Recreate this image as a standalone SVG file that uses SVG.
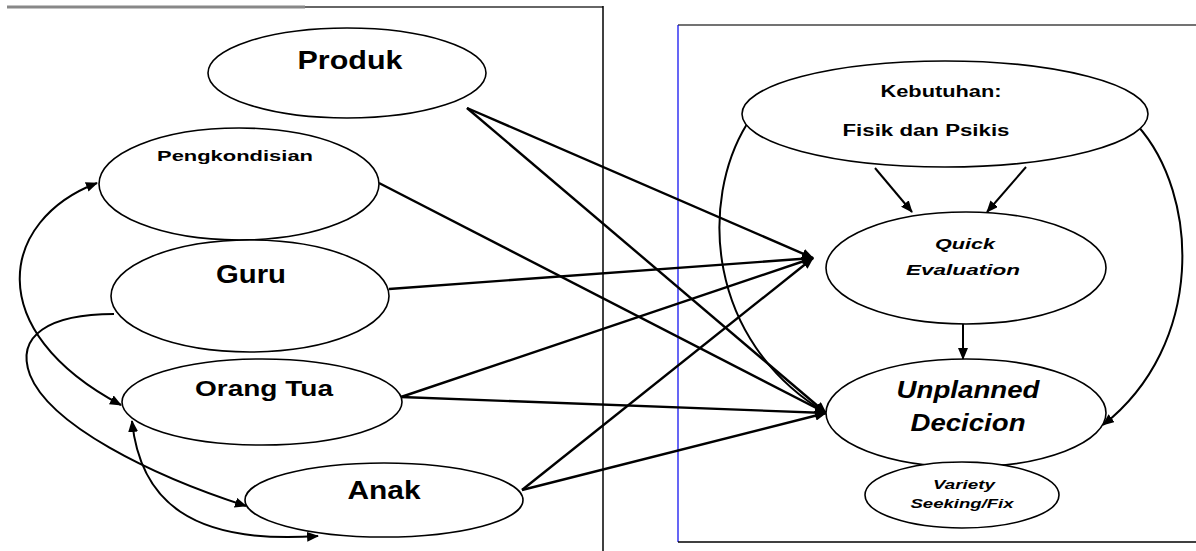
<svg xmlns="http://www.w3.org/2000/svg" width="1196" height="551" viewBox="0 0 1196 551">
<style>
.n{fill:#fff;stroke:#000;stroke-width:1.6}
.t{font-family:"Liberation Sans",Arial,sans-serif;font-weight:bold;fill:#000;text-anchor:middle}
.i{font-style:italic}
.c{fill:none;stroke:#000;stroke-width:2.4}
.cs{fill:none;stroke:#000;stroke-width:2}
</style>
<defs>
<marker id="ah" markerUnits="userSpaceOnUse" markerWidth="12" markerHeight="10" refX="11" refY="5" orient="auto-start-reverse" viewBox="0 0 12 10">
<path d="M0,0 L12,5 L0,10 z" fill="#000"/>
</marker>
</defs>
<rect width="1196" height="551" fill="#fff"/>
<g id="frames">
<line x1="7" y1="7" x2="305" y2="7" stroke="#888" stroke-width="3"/>
<line x1="305" y1="7" x2="603" y2="7" stroke="#333" stroke-width="1.5"/>
<line x1="603" y1="6" x2="603" y2="551" stroke="#000" stroke-width="1.5"/>
<line x1="678" y1="25" x2="1196" y2="25" stroke="#444" stroke-width="1.5"/>
<line x1="678" y1="25" x2="678" y2="542" stroke="#0000ee" stroke-width="1.2"/>
<line x1="678" y1="542" x2="1196" y2="542" stroke="#000" stroke-width="1.5"/>
</g>
<g id="connectors">
<line class="c" x1="467" y1="108" x2="813" y2="258" marker-end="url(#ah)"/>
<line class="c" x1="467" y1="108" x2="826" y2="413" marker-end="url(#ah)"/>
<line class="c" x1="379" y1="183" x2="826" y2="413" marker-end="url(#ah)"/>
<line class="c" x1="389" y1="289" x2="813" y2="258" marker-end="url(#ah)"/>
<line class="c" x1="401" y1="397" x2="813" y2="258" marker-end="url(#ah)"/>
<line class="c" x1="401" y1="397" x2="826" y2="413" marker-end="url(#ah)"/>
<line class="c" x1="522" y1="490" x2="813" y2="258" marker-end="url(#ah)"/>
<line class="c" x1="522" y1="490" x2="826" y2="413" marker-end="url(#ah)"/>
<line class="cs" x1="875" y1="168" x2="912" y2="212" marker-end="url(#ah)"/>
<line class="cs" x1="1026" y1="167" x2="987" y2="212" marker-end="url(#ah)"/>
<line class="cs" x1="963" y1="324" x2="963" y2="359" marker-end="url(#ah)"/>
<path class="cs" d="M747,124 C700,200 705,340 826,413" marker-end="url(#ah)"/>
<path class="cs" d="M1137,125 C1200,195 1205,345 1103,425" marker-end="url(#ah)"/>
<path class="cs" d="M97,183 C0,220 -20,330 121,405" marker-start="url(#ah)" marker-end="url(#ah)"/>
<path class="cs" d="M114,314 C50,314 15,335 30,375 C50,425 150,475 246,506" marker-end="url(#ah)"/>
<path class="cs" d="M132,421 C140,500 190,545 318,536" marker-start="url(#ah)" marker-end="url(#ah)"/>
</g>
<g id="produk">
<ellipse class="n" cx="347" cy="73" rx="139" ry="45"/>
<text class="t" x="350" y="69" font-size="26" textLength="105" lengthAdjust="spacingAndGlyphs">Produk</text>
</g>
<g id="pengkondisian">
<ellipse class="n" cx="239" cy="184" rx="140" ry="56"/>
<text class="t" x="235" y="161" font-size="15" textLength="156" lengthAdjust="spacingAndGlyphs">Pengkondisian</text>
</g>
<g id="guru">
<ellipse class="n" cx="250" cy="296" rx="139" ry="56"/>
<text class="t" x="251" y="283" font-size="25" textLength="70" lengthAdjust="spacingAndGlyphs">Guru</text>
</g>
<g id="orangtua">
<ellipse class="n" cx="262" cy="402" rx="140" ry="43"/>
<text class="t" x="264" y="396" font-size="22" textLength="138" lengthAdjust="spacingAndGlyphs">Orang Tua</text>
</g>
<g id="anak">
<ellipse class="n" cx="384" cy="500" rx="139" ry="37"/>
<text class="t" x="384" y="499" font-size="26" textLength="73" lengthAdjust="spacingAndGlyphs">Anak</text>
</g>
<g id="kebutuhan">
<ellipse class="n" cx="945" cy="114" rx="203" ry="53"/>
<text class="t" x="941" y="97" font-size="16" textLength="121" lengthAdjust="spacingAndGlyphs">Kebutuhan:</text>
<text class="t" x="926" y="136" font-size="16" textLength="167" lengthAdjust="spacingAndGlyphs">Fisik dan Psikis</text>
</g>
<g id="quick">
<ellipse class="n" cx="966" cy="268" rx="140" ry="56"/>
<text class="t i" x="965" y="249" font-size="15" textLength="60" lengthAdjust="spacingAndGlyphs">Quick</text>
<text class="t i" x="963" y="275" font-size="15" textLength="114" lengthAdjust="spacingAndGlyphs">Evaluation</text>
</g>
<g id="unplanned">
<ellipse class="n" cx="966" cy="413" rx="140" ry="54"/>
<text class="t i" x="968" y="398" font-size="23" textLength="143" lengthAdjust="spacingAndGlyphs">Unplanned</text>
<text class="t i" x="968" y="431" font-size="23" textLength="115" lengthAdjust="spacingAndGlyphs">Decicion</text>
</g>
<g id="variety">
<ellipse class="n" cx="962" cy="495" rx="97" ry="33"/>
<text class="t i" x="964" y="489" font-size="13" textLength="62" lengthAdjust="spacingAndGlyphs">Variety</text>
<text class="t i" x="962" y="508" font-size="13" textLength="103" lengthAdjust="spacingAndGlyphs">Seeking/Fix</text>
</g>
</svg>
